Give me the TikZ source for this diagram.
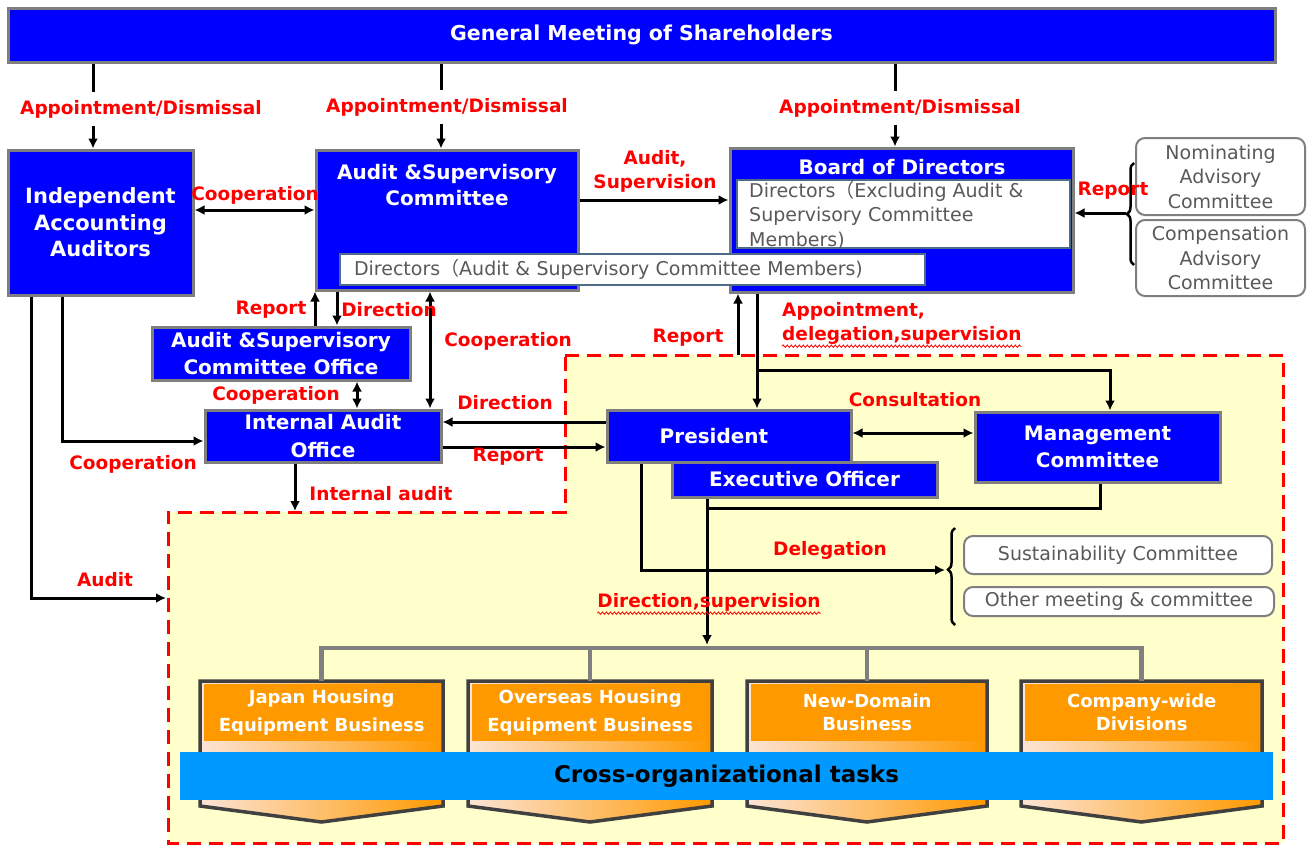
\documentclass[tikz,border=0pt]{standalone}
\usepackage{fontspec}
\setmainfont{DejaVu Sans}
\newfontfamily\cjk{Noto Sans CJK JP}
\usetikzlibrary{arrows.meta,decorations.pathreplacing,decorations.pathmorphing,calc}
\definecolor{pureblue}{HTML}{0000FF}
\definecolor{boxgray}{HTML}{7F7F7F}
\definecolor{txtgray}{HTML}{595959}
\definecolor{lblred}{HTML}{FF0000}
\definecolor{paleyel}{HTML}{FFFFCC}
\definecolor{skyb}{HTML}{0099FF}
\definecolor{orng}{HTML}{FF9900}
\definecolor{peach}{HTML}{FCE4D6}
\definecolor{darkb}{HTML}{404040}
\definecolor{slate}{HTML}{4F6B8A}
\definecolor{treegray}{HTML}{808080}
\begin{document}
\begin{tikzpicture}[x=1pt,y=-1pt,
 bluebox/.style={draw=boxgray, line width=3pt, fill=pureblue, text=white, inner sep=0pt, font=\fontsize{20}{27}\selectfont\bfseries, align=center},
 redlab/.style={text=lblred, inner sep=1pt, font=\fontsize{18.5}{24}\selectfont\bfseries},
 graybox/.style={draw=boxgray, line width=2pt, rounded corners=9pt, fill=white, text=txtgray, inner sep=1pt, font=\fontsize{19}{24.5}\selectfont, align=center},
 arr/.style={line width=3pt, -{Latex[length=10pt,width=10pt]}},
 dblarr/.style={line width=3pt, {Latex[length=10pt,width=10pt]}-{Latex[length=10pt,width=10pt]}},
 conn/.style={line width=3pt},
 treeline/.style={draw=treegray, line width=4.5pt},
 bizbox/.style={fill=orng, text=white, inner sep=0pt, align=center},
 bracestyle/.style={line width=2.5pt, decorate, decoration={brace, amplitude=7pt}},
 squiggle/.style={draw=lblred, line width=0.8pt, decorate, decoration={snake, amplitude=1.2pt, segment length=4pt}}
]
\useasboundingbox (0,0) rectangle (1313,846);
\fill[white] (0,0) rectangle (1313,846);

% dashed executive region
\draw[fill=paleyel, draw=lblred, line width=3pt, dash pattern=on 14pt off 8pt]
  (565,355) -- (1283,355) -- (1283,843) -- (168,843) -- (168,512) -- (565,512) -- cycle;

% helper coordinates
\coordinate (xa) at (93,0);
\coordinate (xb) at (441,0);
\coordinate (xc) at (895,0);
\coordinate (y200) at (0,200);
\coordinate (y210) at (0,210);
\coordinate (x315) at (315,0);
\coordinate (x337) at (337,0);
\coordinate (x430) at (430,0);
\coordinate (x357) at (357,0);
\coordinate (x62) at (62,0);
\coordinate (x31) at (31,0);
\coordinate (x295) at (295,0);
\coordinate (y441) at (0,441);
\coordinate (y422) at (0,422);
\coordinate (y447) at (0,447);
\coordinate (y433) at (0,433);
\coordinate (x757) at (757,0);
\coordinate (x1110) at (1110,0);
\coordinate (x641) at (641,0);
\coordinate (x707) at (707,0);
\coordinate (x1100) at (1100,0);
\coordinate (regL) at (166,598);
\coordinate (regT) at (295,511);
\coordinate (br) at (757,370);
\coordinate (rt) at (738,355);
\coordinate (bt1) at (1126,213);
\coordinate (bt2) at (945,570);
\coordinate (j508) at (707,508);
\coordinate (tree) at (707,648);

% boxes
\node[bluebox, minimum width=1267pt, minimum height=54pt, font=\fontsize{20.5}{24}\selectfont\bfseries] (gms) at (641.5,35) {General Meeting of Shareholders};
\node[bluebox, minimum width=185pt, minimum height=145pt, font=\fontsize{21}{26.5}\selectfont\bfseries] (iaa) at (100.5,222.5) {Independent\\Accounting\\Auditors};

\node[bluebox, minimum width=343pt, minimum height=144pt] (bod) at (901.5,220) {};
\node[text=white, inner sep=0pt, font=\fontsize{20}{24}\selectfont\bfseries] (bodt) at (902,167) {Board of Directors};
\node[draw=slate, line width=2pt, fill=white, minimum width=333pt, minimum height=68pt, inner sep=0pt] (bodin) at (903.5,214) {};
\node[anchor=north west, inner sep=0pt, text=txtgray, align=left, font=\fontsize{19}{24.5}\selectfont] (bodintx) at (749,181) {Directors{\cjk （}Excluding Audit \&\\Supervisory Committee\\Members)};

\node[bluebox, minimum width=262pt, minimum height=140pt] (asc) at (447,220) {};
\node[text=white, inner sep=0pt, align=center, font=\fontsize{20}{26}\selectfont\bfseries] (asct) at (447,185) {Audit \&Supervisory\\Committee};
\node[draw=slate, line width=2pt, fill=white, minimum height=31pt, inner xsep=14pt, inner ysep=0pt, text width=557pt, align=left, text=txtgray, font=\fontsize{19}{22}\selectfont] (ascdir) at (632.5,269.5) {Directors{\cjk （}Audit \& Supervisory Committee Members)};

\node[graybox, minimum width=169pt, minimum height=77pt] (nac) at (1220.5,176.5) {Nominating\\Advisory\\Committee};
\node[graybox, minimum width=169pt, minimum height=76pt] (cac) at (1220.5,258) {Compensation\\Advisory\\Committee};

\node[bluebox, minimum width=258pt, minimum height=53pt] (asco) at (281,353.5) {Audit \&Supervisory\\Committee Office};
\node[bluebox, minimum width=236pt, minimum height=52pt, font=\fontsize{20}{28}\selectfont\bfseries] (iao) at (323,436) {Internal Audit\\Office};
\node[bluebox, minimum width=244pt, minimum height=52pt] (pres) at (729,436) {President\hspace*{30pt}};
\node[bluebox, minimum width=265pt, minimum height=35pt] (exo) at (804.5,479.5) {Executive Officer};
\node[bluebox, minimum width=245pt, minimum height=70pt] (mc) at (1097.5,447) {Management\\Committee};

\node[graybox, minimum width=308pt, minimum height=38pt] (sc) at (1118,555) {Sustainability Committee};
\node[graybox, minimum width=310pt, minimum height=29pt] (omc) at (1119,601.5) {Other meeting \& committee};

% business units
\foreach \xl/\xr/\nm/\bs/\txt in {200/443/jhb/28/{Japan Housing\\Equipment Business},468/712/ohb/28/{Overseas Housing\\Equipment Business},747/987/ndb/23/{New-Domain\\Business},1021/1262/cwd/23/{Company-wide\\Divisions}}{
  \fill[left color=peach, right color=orng] (\xl,681) -- (\xr,681) -- (\xr,806) -- ({(\xl+\xr)/2},822) -- (\xl,806) -- cycle;
  \node[bizbox, minimum width={\xr-\xl-8}, minimum height=57pt, font=\fontsize{18}{\bs}\selectfont\bfseries, anchor=north west] (\nm) at (\xl+4,684) {\txt};
  \draw[darkb, line width=3.5pt, line join=miter] (\xl,681) -- (\xr,681) -- (\xr,806) -- ({(\xl+\xr)/2},822) -- (\xl,806) -- cycle;
}
\node[fill=skyb, minimum width=1093pt, minimum height=48pt, inner sep=0pt, text=black, font=\fontsize{23}{26}\selectfont\bfseries] (cot) at (726.5,776) {Cross-organizational tasks};

% tree
\draw[treeline] ($(jhb.north)-(0,3)$) -- (jhb.north |- tree) -- (cwd.north |- tree) -- ($(cwd.north)-(0,3)$);
\draw[treeline] ($(ohb.north)-(0,3)$) -- (ohb.north |- tree);
\draw[treeline] ($(ndb.north)-(0,3)$) -- (ndb.north |- tree);

% connectors
\draw[arr] (gms.south -| xa) -- node[redlab, fill=white, inner ysep=8pt, xshift=48pt, yshift=-3pt] (lad1) {Appointment/Dismissal} (iaa.north -| xa);
\draw[arr] (gms.south -| xb) -- node[redlab, fill=white, inner ysep=8pt, xshift=6pt, yshift=-1pt] (lad2) {Appointment/Dismissal} (asc.north -| xb);
\draw[arr] (gms.south -| xc) -- node[redlab, fill=white, inner ysep=8pt, xshift=5pt, yshift=-3pt] (lad3) {Appointment/Dismissal} (bod.north -| xc);

\draw[arr] (asc.east |- y200) -- (bod.west |- y200);
\draw[dblarr] (iaa.east |- y210) -- (asc.west |- y210);

\draw[bracestyle] (1134,265) -- (1134,163);
\draw[arr] (bt1) -- (bod.east |- bt1);

\draw[arr] (asco.north -| x315) -- (asc.south -| x315);
\draw[arr] (asc.south -| x337) -- (asco.north -| x337);
\draw[dblarr] (asc.south -| x430) -- (iao.north -| x430);
\draw[dblarr] (asco.south -| x357) -- (iao.north -| x357);
\draw[arr] (iaa.south -| x62) |- (iao.west |- y441);
\draw[arr] (iaa.south -| x31) |- (regL);
\draw[arr] (iao.south -| x295) -- (regT);
\draw[arr] (pres.west |- y422) -- (iao.east |- y422);
\draw[arr] (iao.east |- y447) -- (pres.west |- y447);

\draw[arr] (bod.south -| x757) -- (pres.north -| x757);
\draw[arr] (br) -| (mc.north -| x1110);
\draw[arr] (rt) -- (bod.south -| rt);
\draw[dblarr] (pres.east |- y433) -- (mc.west |- y433);
\draw[arr] (pres.south -| x641) |- (bt2);
\draw[bracestyle, decoration={brace, amplitude=7pt, aspect=0.57}] (955,625) -- (955,528);
\draw[conn] (mc.south -| x1100) |- (j508);
\draw[arr] (exo.south -| x707) -- ($(tree)-(0,3)$);

% labels
\node[redlab] (lcoop1) at (255,195) {Cooperation};
\node[redlab, align=center] (laudsup) at (655,171) {Audit,\\Supervision};
\node[redlab] (lrep1) at (1113,191) {Report};
\node[redlab] (lrep2) at (271,310) {Report};
\node[redlab] (ldir1) at (389,310) {Direction};
\node[redlab] (lcoop2) at (508,341) {Cooperation};
\node[redlab] (lcoop3) at (276,395) {Cooperation};
\node[redlab] (lcoop4) at (133,464) {Cooperation};
\node[redlab] (laudit) at (105,580) {Audit};
\node[redlab] (lint) at (381,494) {Internal audit};
\node[redlab] (ldir2) at (505,403) {Direction};
\node[redlab] (lrep3) at (508,457) {Report};
\node[redlab] (lrep4) at (688,338) {Report};
\node[redlab, align=left, anchor=west] (lapp) at (781,323) {Appointment,\\delegation,supervision};
\node[redlab] (lcons) at (915,400) {Consultation};
\node[redlab] (ldel) at (830,550) {Delegation};
\node[redlab] (ldirsup) at (709,602) {Direction,supervision};
\draw[squiggle] ($(lapp.south west)+(1,1)$) -- ($(lapp.south east)+(-1,1)$);
\draw[squiggle] ($(ldirsup.south west)+(1,1)$) -- ($(ldirsup.south east)+(-1,1)$);
\end{tikzpicture}
\end{document}
